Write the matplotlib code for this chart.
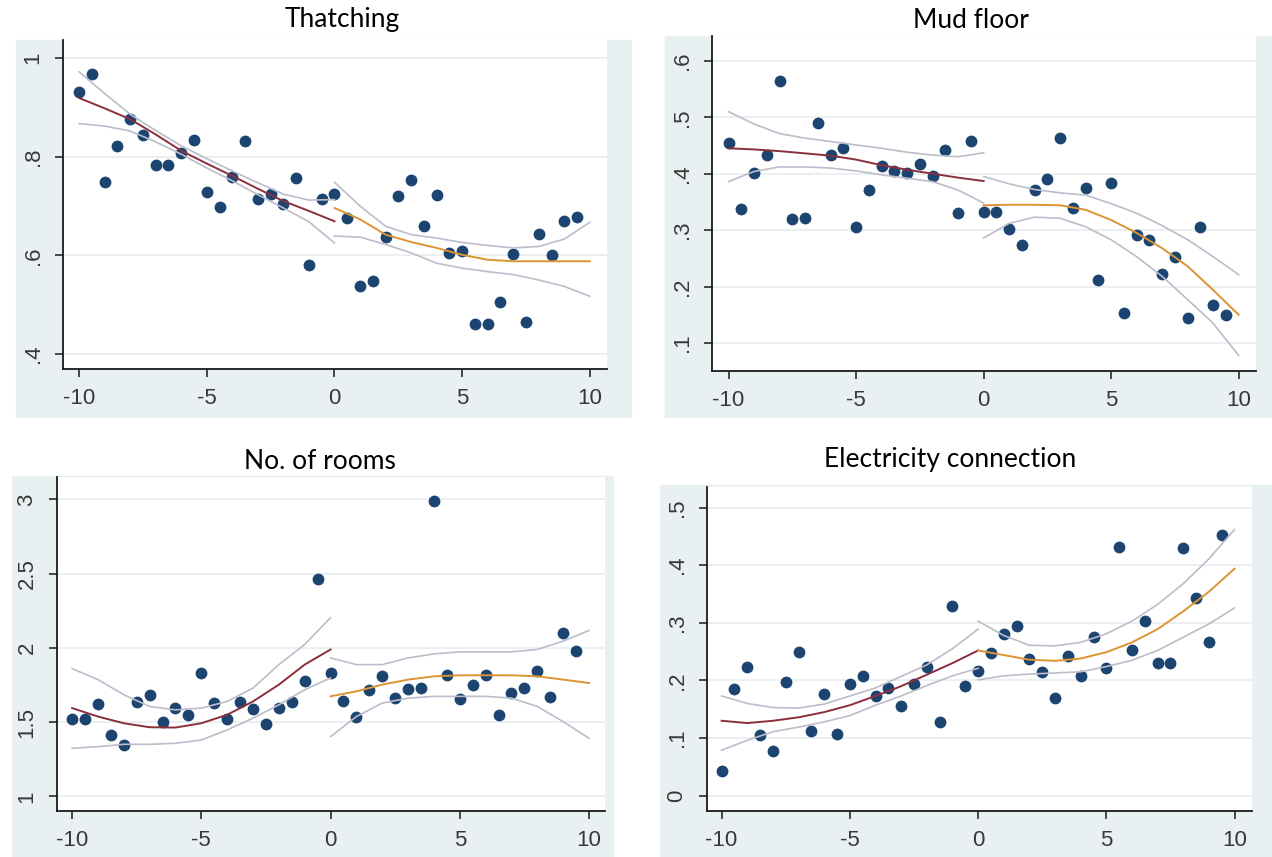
import matplotlib
matplotlib.use("Agg")
import matplotlib.pyplot as plt
from matplotlib.patches import Rectangle

W, H = 1272, 857

# bin midpoints (running variable)
bins = [-10, -9.5, -9, -8.5, -8, -7.5, -7, -6.5, -6, -5.5, -5, -4.5, -4, -3.5, -3, -2.5, -2, -1.5, -1, -0.5,
        0, 0.5, 1, 1.5, 2, 2.5, 3, 3.5, 4, 4.5, 5, 5.5, 6, 6.5, 7, 7.5, 8, 8.5, 9, 9.5]
grid_l = [-10, -9, -8, -7, -6, -5, -4, -3, -2, -1, 0]
grid_r = [0, 1, 2, 3, 4, 5, 6, 7, 8, 9, 10]

# Thatching
thatch = [0.932, 0.967, 0.749, 0.821, 0.877, 0.843, 0.784, 0.784, 0.808, 0.834,
          0.728, 0.698, 0.759, 0.832, 0.715, 0.725, 0.704, 0.756, 0.581, 0.715,
          0.724, 0.676, 0.538, 0.548, 0.637, 0.721, 0.752, 0.660, 0.723, 0.605,
          0.608, 0.461, 0.461, 0.506, 0.603, 0.464, 0.643, 0.601, 0.669, 0.677]
thatch_fit_l = [0.919, 0.898, 0.876, 0.845, 0.812, 0.786, 0.761, 0.735, 0.710, 0.690, 0.669]
thatch_hi_l = [0.972, 0.928, 0.886, 0.853, 0.822, 0.796, 0.771, 0.747, 0.724, 0.712, 0.713]
thatch_lo_l = [0.867, 0.862, 0.852, 0.830, 0.805, 0.777, 0.751, 0.723, 0.696, 0.668, 0.625]
thatch_fit_r = [0.696, 0.673, 0.642, 0.627, 0.615, 0.601, 0.591, 0.588, 0.588, 0.588, 0.588]
thatch_hi_r = [0.748, 0.700, 0.659, 0.642, 0.635, 0.626, 0.620, 0.615, 0.618, 0.633, 0.667]
thatch_lo_r = [0.639, 0.637, 0.622, 0.605, 0.584, 0.574, 0.567, 0.561, 0.550, 0.537, 0.517]

# Mud floor
mud = [0.454, 0.337, 0.401, 0.433, 0.565, 0.319, 0.321, 0.490, 0.433, 0.445,
       0.305, 0.371, 0.413, 0.404, 0.401, 0.417, 0.396, 0.442, 0.330, 0.458,
       0.333, 0.333, 0.302, 0.273, 0.372, 0.390, 0.464, 0.339, 0.374, 0.212,
       0.384, 0.153, 0.292, 0.283, 0.223, 0.252, 0.144, 0.305, 0.168, 0.150]
mud_fit_l = [0.445, 0.443, 0.440, 0.436, 0.432, 0.425, 0.415, 0.407, 0.400, 0.393, 0.387]
mud_hi_l = [0.510, 0.488, 0.471, 0.463, 0.457, 0.451, 0.445, 0.438, 0.433, 0.430, 0.437]
mud_lo_l = [0.386, 0.404, 0.412, 0.412, 0.410, 0.405, 0.398, 0.392, 0.386, 0.371, 0.348]
mud_fit_r = [0.344, 0.345, 0.345, 0.344, 0.336, 0.318, 0.295, 0.268, 0.236, 0.194, 0.150]
mud_hi_r = [0.395, 0.382, 0.372, 0.366, 0.362, 0.347, 0.330, 0.308, 0.283, 0.253, 0.221]
mud_lo_r = [0.286, 0.312, 0.323, 0.321, 0.306, 0.283, 0.253, 0.218, 0.177, 0.135, 0.078]

# No. of rooms
rooms = [1.521, 1.521, 1.621, 1.413, 1.345, 1.634, 1.684, 1.503, 1.594, 1.549,
         1.831, 1.628, 1.521, 1.632, 1.587, 1.488, 1.594, 1.634, 1.774, 2.467,
         1.828, 1.639, 1.537, 1.718, 1.808, 1.661, 1.725, 1.729, 2.986, 1.819,
         1.657, 1.752, 1.815, 1.549, 1.695, 1.729, 1.842, 1.668, 2.102, 1.977]
rooms_fit_l = [1.594, 1.537, 1.492, 1.465, 1.463, 1.492, 1.549, 1.639, 1.752, 1.887, 1.989]
rooms_hi_l = [1.860, 1.786, 1.684, 1.605, 1.582, 1.594, 1.639, 1.729, 1.887, 2.023, 2.203]
rooms_lo_l = [1.323, 1.334, 1.350, 1.350, 1.357, 1.379, 1.447, 1.526, 1.616, 1.718, 1.797]
rooms_fit_r = [1.673, 1.707, 1.752, 1.786, 1.808, 1.815, 1.815, 1.815, 1.808, 1.786, 1.763]
rooms_hi_r = [1.932, 1.887, 1.887, 1.932, 1.959, 1.973, 1.973, 1.973, 1.989, 2.045, 2.117]
rooms_lo_r = [1.402, 1.537, 1.628, 1.661, 1.673, 1.673, 1.673, 1.661, 1.605, 1.503, 1.391]

# Electricity connection
elec = [0.043, 0.185, 0.224, 0.105, 0.078, 0.198, 0.249, 0.112, 0.176, 0.107,
        0.193, 0.207, 0.173, 0.187, 0.156, 0.194, 0.224, 0.128, 0.329, 0.191,
        0.217, 0.247, 0.281, 0.294, 0.237, 0.214, 0.170, 0.242, 0.207, 0.276,
        0.222, 0.432, 0.252, 0.304, 0.231, 0.231, 0.429, 0.343, 0.266, 0.452]
elec_fit_l = [0.130, 0.126, 0.130, 0.136, 0.145, 0.157, 0.173, 0.190, 0.210, 0.230, 0.252]
elec_hi_l = [0.173, 0.160, 0.153, 0.152, 0.159, 0.173, 0.187, 0.207, 0.227, 0.255, 0.289]
elec_lo_l = [0.079, 0.096, 0.111, 0.119, 0.128, 0.139, 0.157, 0.173, 0.191, 0.208, 0.221]
elec_fit_r = [0.252, 0.244, 0.236, 0.234, 0.238, 0.249, 0.266, 0.289, 0.320, 0.354, 0.394]
elec_hi_r = [0.303, 0.278, 0.261, 0.260, 0.266, 0.281, 0.303, 0.332, 0.368, 0.411, 0.462]
elec_lo_r = [0.201, 0.208, 0.211, 0.213, 0.215, 0.224, 0.235, 0.252, 0.275, 0.298, 0.326]

titles = ["Thatching", "Mud floor", "No. of rooms", "Electricity connection"]
yticks = [[0.4, 0.6, 0.8, 1.0], [0.1, 0.2, 0.3, 0.4, 0.5, 0.6],
          [1, 1.5, 2, 2.5, 3], [0, 0.1, 0.2, 0.3, 0.4, 0.5]]
ylabels = [[".4", ".6", ".8", "1"], [".1", ".2", ".3", ".4", ".5", ".6"],
           ["1", "1.5", "2", "2.5", "3"], ["0", ".1", ".2", ".3", ".4", ".5"]]
xticks = [-10, -5, 0, 5, 10]

panels = [
    (thatch, thatch_fit_l, thatch_hi_l, thatch_lo_l, thatch_fit_r, thatch_hi_r, thatch_lo_r),
    (mud, mud_fit_l, mud_hi_l, mud_lo_l, mud_fit_r, mud_hi_r, mud_lo_r),
    (rooms, rooms_fit_l, rooms_hi_l, rooms_lo_l, rooms_fit_r, rooms_hi_r, rooms_lo_r),
    (elec, elec_fit_l, elec_hi_l, elec_lo_l, elec_fit_r, elec_hi_r, elec_lo_r),
]

# layout in pixels: graph region, plot region, limits, title centre
bg_boxes = [(16, 40, 631, 417), (665, 36, 1272, 417), (12, 476, 613, 857), (660, 485, 1272, 857)]
ax_boxes = [(63, 40, 607, 369), (712, 36, 1256, 371), (57, 477, 605, 811), (707, 487, 1252, 811)]
xlims = [(-10.63, 10.67), (-10.65, 10.68), (-10.585, 10.62), (-10.57, 10.68)]
ylims = [(0.3696, 1.0365), (0.0504, 0.644), (0.9007, 3.151), (-0.0266, 0.5357)]
title_pos = [(342, 20), (971, 20), (320, 462), (950, 460)]

bg_col = "#e9f0f2"
dot_col = "#1c4470"
ci_col = "#bcbccb"

fig = plt.figure(figsize=(W / 100, H / 100), dpi=100)
fig.patch.set_facecolor("white")

for i in range(4):
    x0, y0, x1, y1 = bg_boxes[i]
    fig.patches.append(Rectangle((x0 / W, 1 - y1 / H), (x1 - x0) / W, (y1 - y0) / H,
                                 transform=fig.transFigure, color=bg_col, zorder=-5))
    l, t, r, b = ax_boxes[i]
    ax = fig.add_axes([l / W, 1 - b / H, (r - l) / W, (b - t) / H])
    ax.set_zorder(1)
    ax.set_facecolor("white")
    pts, fl, hl, ll, fr, hr, lr = panels[i]

    ax.plot(bins, pts, "o", color=dot_col, markersize=8.5, markeredgewidth=0, zorder=2)
    ax.plot(grid_l, hl, color=ci_col, lw=1.2, zorder=3)
    ax.plot(grid_l, ll, color=ci_col, lw=1.2, zorder=3)
    ax.plot(grid_r, hr, color=ci_col, lw=1.2, zorder=3)
    ax.plot(grid_r, lr, color=ci_col, lw=1.2, zorder=3)
    ax.plot(grid_l, fl, color="#8a2f3c", lw=1.4, zorder=4)
    ax.plot(grid_r, fr, color="#dc9433", lw=1.4, zorder=4)

    ax.set_xlim(*xlims[i])
    ax.set_ylim(*ylims[i])
    ax.set_xticks(xticks)
    ax.set_xticklabels([str(v) for v in xticks])
    ax.set_yticks(yticks[i])
    ax.set_yticklabels(ylabels[i], rotation=90, va="center")
    for s in ["top", "right"]:
        ax.spines[s].set_visible(False)
    for s in ["left", "bottom"]:
        ax.spines[s].set_linewidth(1.3)
        ax.spines[s].set_color("#1a1a1a")
    ax.tick_params(direction="out", length=6, width=1.1, color="#1a1a1a",
                   labelsize=16, labelcolor="#383838")
    ax.tick_params(axis="x", pad=8)
    ax.tick_params(axis="y", pad=8)
    for lab in ax.get_xticklabels() + ax.get_yticklabels():
        lab.set_family("Liberation Sans")
    ax.yaxis.grid(True, color="#e8eff1", lw=1.3)
    ax.set_axisbelow(True)

    tx, ty = title_pos[i]
    fig.text(tx / W, 1 - ty / H, titles[i], ha="center", va="center",
             fontsize=19, family="Lato", color="black")

fig.savefig("out.png", dpi=100)
